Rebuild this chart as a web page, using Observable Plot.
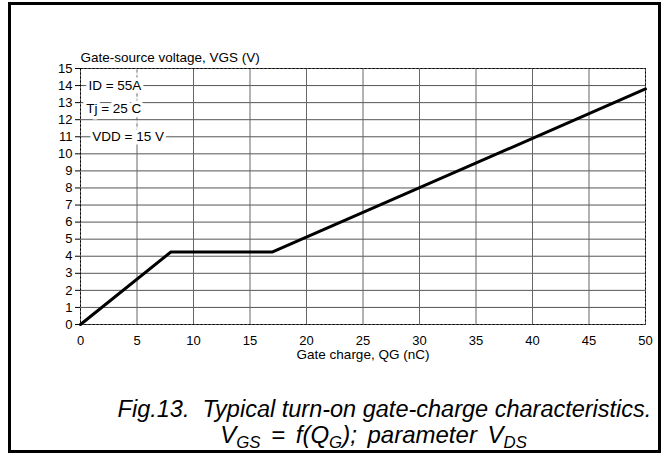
<!DOCTYPE html>
<html>
<head>
<meta charset="utf-8">
<script src="https://cdn.jsdelivr.net/npm/d3@7"></script>
<script src="https://cdn.jsdelivr.net/npm/@observablehq/plot@0.6"></script>
<style>
  html, body { margin: 0; padding: 0; background: #fff; }
  body { width: 667px; height: 455px; position: relative; overflow: hidden; font-family: "Liberation Sans", Arial, sans-serif; }
  #box { position: absolute; left: 8px; top: 2px; width: 653px; height: 451px; border: 3px solid #000; box-sizing: border-box; }
  #chart { position: absolute; left: 0; top: 0; }
  .cap { position: absolute; left: 0; width: 667px; text-align: center; font-style: italic; font-size: 23.5px; color: #000; white-space: pre; line-height: 28px; }
  .cap sub { font-size: 0.7em; vertical-align: -0.3em; line-height: 0; }
  #cap2 { font-size: 24px; word-spacing: 4px; }
</style>
</head>
<body>
<div id="box"></div>
<div id="chart"></div>
<div class="cap" id="cap1" style="top:395px; left:51px;">Fig.13.  Typical turn-on gate-charge characteristics.</div>
<div class="cap" id="cap2" style="top:421px; left:40px;">V<sub>GS</sub> = f(Q<sub>G</sub>); parameter V<sub>DS</sub></div>
<script>
// Gate charge curve (nC, V)
const qg = [0, 8, 17, 50];
const vgs = [0, 4.25, 4.25, 13.8];

// Axis ticks
const xTicks = [0, 5, 10, 15, 20, 25, 30, 35, 40, 45, 50];
const yTicks = [0, 1, 2, 3, 4, 5, 6, 7, 8, 9, 10, 11, 12, 13, 14, 15];

// Labels
const yLabel = "Gate-source voltage, VGS (V)";
const xLabel = "Gate charge, QG (nC)";

// Condition annotations
const annoText = ["ID = 55A", "Tj = 25 C", "VDD = 15 V"];
const annoQ = [0.7, 0.5, 1.05];
const annoV = [14, 12.65, 11.0];

const curve = qg.map((q, i) => ({q, v: vgs[i]}));
const annos = annoText.map((t, i) => ({t, q: annoQ[i], v: annoV[i]}));

const chart = Plot.plot({
  width: 667,
  height: 375,
  marginLeft: 80,
  marginRight: 22,
  marginTop: 68,
  marginBottom: 51,
  style: {fontFamily: "'Liberation Sans', Arial, sans-serif", fontSize: "13px", color: "#000", background: "transparent"},
  x: {domain: [0, 50], ticks: xTicks, tickSize: 0, tickPadding: 11, label: null},
  y: {domain: [0, 15], ticks: yTicks, tickSize: 5, tickPadding: 3, label: null},
  marks: [
    Plot.ruleY(yTicks, {stroke: "#555", strokeWidth: 1}),
    Plot.ruleX(xTicks, {stroke: "#666", strokeWidth: 1}),
    Plot.ruleX([5], {y1: 11.4, y2: 15, stroke: "white", strokeWidth: 1.5, strokeDasharray: "3,3"}),
    Plot.frame({stroke: "#000", strokeDasharray: "2,2", strokeWidth: 1}),
    Plot.text(annos, {x: "q", y: "v", text: "t", textAnchor: "start", fontSize: 13.5, fill: "#000", stroke: "white", strokeWidth: 7}),
    Plot.line(curve, {x: "q", y: "v", stroke: "#000", strokeWidth: 3, strokeLinejoin: "miter"}),
    Plot.text([yLabel], {frameAnchor: "top-left", textAnchor: "start", lineAnchor: "bottom", dy: -7, fontSize: 13.5, fill: "#000"}),
    Plot.text([xLabel], {frameAnchor: "bottom", lineAnchor: "top", dy: 25, fontSize: 13.5, fill: "#000"})
  ]
});
document.getElementById("chart").appendChild(chart);
</script>
</body>
</html>
